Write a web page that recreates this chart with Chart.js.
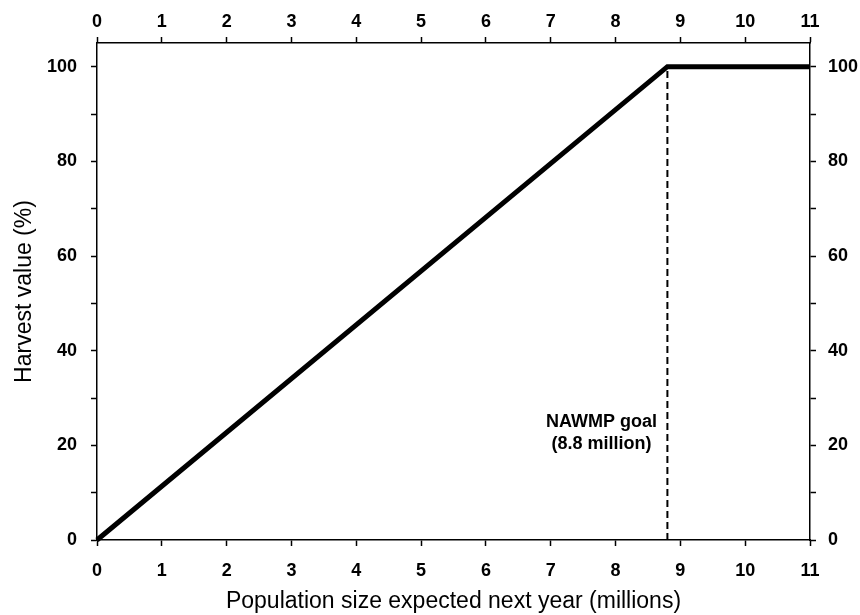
<!DOCTYPE html>
<html>
<head>
<meta charset="utf-8">
<script src="https://cdn.jsdelivr.net/npm/chart.js@4"></script>
<style>
    html, body { margin: 0; padding: 0; background: #fff; }
    #wrap { width: 860px; height: 615px; }
</style>
</head>
<body>
<div id="wrap"><canvas id="chartMain"></canvas></div>
<script>
const popSize = [0, 8.8, 11];
const harvestValue = [0, 100, 100];
const goalX = [8.8, 8.8];
const goalY = [0, 100];
const goalLabel = ['NAWMP goal', '(8.8 million)'];

const FONT = "'Liberation Sans', Arial, sans-serif";
const tickFont = { family: FONT, size: 18, weight: 'bold' };

const toPoints = (xs, ys) => xs.map((x, i) => ({ x: x, y: ys[i] }));

// text next to the dashed goal line
const goalText = {
    id: 'goalText',
    afterDatasetsDraw(chart) {
        const { ctx, scales: { x, y } } = chart;
        const cx = x.getPixelForValue(goalX[0]) - 66;
        ctx.save();
        ctx.font = 'bold 18px ' + FONT;
        ctx.fillStyle = '#000';
        ctx.textAlign = 'center';
        ctx.textBaseline = 'middle';
        ctx.fillText(goalLabel[0], cx, y.getPixelForValue(25.0));
        ctx.fillText(goalLabel[1], cx, y.getPixelForValue(20.2));
        ctx.restore();
    }
};

const axisBase = {
    type: 'linear',
    border: { display: true, color: '#000', width: 1.5 },
    grid: { drawOnChartArea: false, drawTicks: true, tickLength: 6, tickColor: '#000', tickWidth: 1.5 }
};

new Chart(document.getElementById('chartMain'), {
    type: 'scatter',
    data: {
        datasets: [
            {
                data: toPoints(popSize, harvestValue),
                showLine: true, borderColor: '#000', borderWidth: 5,
                pointRadius: 0, clip: false, xAxisID: 'x', yAxisID: 'y'
            },
            {
                data: toPoints(goalX, goalY),
                showLine: true, borderColor: '#000', borderWidth: 2, borderDash: [7, 4],
                pointRadius: 0, xAxisID: 'x', yAxisID: 'y'
            }
        ]
    },
    options: {
        responsive: true, maintainAspectRatio: false, animation: false,
        layout: { padding: 0 },
        plugins: { legend: { display: false }, tooltip: { enabled: false } },
        scales: {
            x: {
                ...axisBase, position: 'bottom', min: 0, max: 11,
                ticks: { stepSize: 1, color: '#000', font: tickFont, padding: 14, maxRotation: 0 },
                title: {
                    display: true, text: 'Population size expected next year (millions)',
                    color: '#000', font: { family: FONT, size: 23 }, padding: { top: 0, bottom: 0 }
                },
                afterFit: s => { s.height = 75; }
            },
            x2: {
                ...axisBase, position: 'top', min: 0, max: 11,
                ticks: { stepSize: 1, color: '#000', font: tickFont, padding: 4, maxRotation: 0 },
                afterFit: s => { s.height = 43; }
            },
            y: {
                ...axisBase, position: 'left', min: 0, max: 105,
                ticks: {
                    stepSize: 10, includeBounds: false, color: '#000', font: tickFont, padding: 14,
                    callback: v => (v % 20 === 0 ? v : '')
                },
                title: {
                    display: true, text: 'Harvest value (%)',
                    color: '#000', font: { family: FONT, size: 23 }, padding: { top: 11, bottom: 0 }
                },
                afterFit: s => { s.width = 97; }
            },
            y2: {
                ...axisBase, position: 'right', min: 0, max: 105,
                ticks: {
                    stepSize: 10, includeBounds: false, color: '#000', font: tickFont, padding: 12,
                    callback: v => (v % 20 === 0 ? v : '')
                },
                afterFit: s => { s.width = 50; }
            }
        }
    },
    plugins: [goalText]
});
</script>
</body>
</html>
